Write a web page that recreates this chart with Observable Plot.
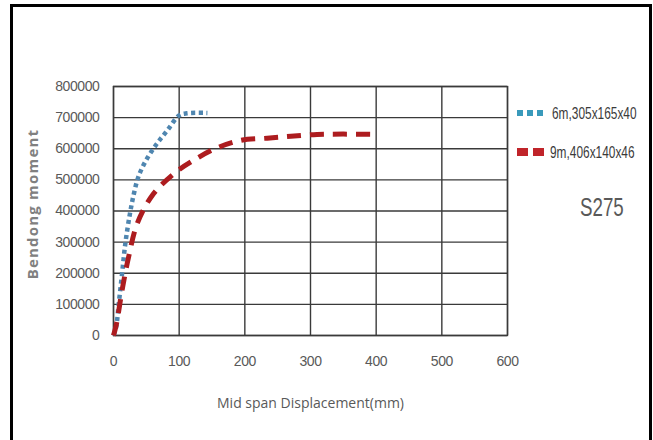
<!DOCTYPE html>
<html><head><meta charset="utf-8">
<script src="https://cdn.jsdelivr.net/npm/d3@7"></script>
<script src="https://cdn.jsdelivr.net/npm/@observablehq/plot@0.6"></script>
<style>
body{margin:0;background:#fff;}
#wrap{position:relative;width:653px;height:440px;overflow:hidden;background:#fff;}
#wrap svg.plot{position:absolute;left:0;top:0;}
#wrap svg.plot g[aria-label="x-axis tick label"] text, #wrap svg.plot g[aria-label="y-axis tick label"] text{letter-spacing:-0.4px;}
#border{position:absolute;left:10px;top:4px;width:642px;height:470px;border:3px solid #000;box-sizing:border-box;pointer-events:none;}
.leg{position:absolute;left:517px;font-family:"Liberation Sans",Arial,sans-serif;font-size:16.5px;color:#3a3a3a;display:flex;align-items:center;white-space:nowrap;}
.leg svg{margin-right:3px;}
.leg span{display:inline-block;transform:scaleX(0.72);transform-origin:left center;}
#s275{position:absolute;left:580px;top:192px;font-family:"Liberation Sans",Arial,sans-serif;font-size:26px;color:#595959;transform:scaleX(0.72);transform-origin:left top;}
</style></head>
<body>
<div id="wrap"></div>
<script>
const xTicks = [0, 100, 200, 300, 400, 500, 600];
const yTicks = [0, 100000, 200000, 300000, 400000, 500000, 600000, 700000, 800000];
const seriesNames = ["6m,305x165x40", "9m,406x140x46"];
const seriesColors = ["#4f86b0", "#ad1c1f"];
// 6m, 305x165x40
const s1x = [0, 4, 8, 13, 18, 25, 31, 38.6, 51, 66, 82, 100, 112, 143];
const s1y = [0, 27000, 102000, 198000, 295000, 391000, 455000, 514000, 568000, 616000, 659000, 707000, 714000, 715000];
// 9m, 406x140x46
const s2x = [0, 4.6, 13, 23, 36, 59, 92, 122, 158, 194, 234, 270, 310, 350, 399];
const s2y = [0, 38000, 145000, 252000, 359000, 450000, 520000, 563000, 603000, 627000, 634000, 640000, 646000, 647000, 646000];
const xLabel = "Mid span Displacement(mm)";
const yLabel = "Bendong moment";
const note = "S275";

const d1 = s1x.map((x, i) => ({x, y: s1y[i]}));
const d2 = s2x.map((x, i) => ({x, y: s2y[i]}));
const tickFont = "'Liberation Sans',Arial,sans-serif";

const chart = Plot.plot({
  width: 653, height: 440,
  marginLeft: 113, marginRight: 146, marginTop: 86, marginBottom: 105,
  style: {fontFamily: tickFont, fontSize: "14px", color: "#595959", background: "transparent"},
  x: {domain: [0, 600], ticks: xTicks, label: null},
  y: {domain: [0, 800000], ticks: yTicks, label: null},
  marks: [
    Plot.gridX(xTicks, {stroke: "#3a3a3a", strokeOpacity: 1, strokeWidth: 1.4}),
    Plot.gridY(yTicks, {stroke: "#3a3a3a", strokeOpacity: 1, strokeWidth: 1.4}),
    Plot.frame({stroke: "#3a3a3a", strokeWidth: 1.4}),
    Plot.axisX(xTicks, {tickSize: 0, tickPadding: 21, fontSize: 14, fill: "#595959", tickFormat: d => String(d)}),
    Plot.axisY(yTicks, {tickSize: 0, tickPadding: 14, fontSize: 14, fill: "#595959", tickFormat: d => String(d)}),
    Plot.line(d1, {x: "x", y: "y", stroke: seriesColors[0], strokeWidth: 4.5, strokeDasharray: "4,3.5", strokeLinecap: "butt", curve: "catmull-rom"}),
    Plot.line(d2, {x: "x", y: "y", stroke: seriesColors[1], strokeWidth: 5, strokeDasharray: "14,9", strokeLinecap: "butt", curve: "catmull-rom"}),
    Plot.text([yLabel], {frameAnchor: "left", textAnchor: "middle", dx: -80, dy: -7, rotate: -90, fontSize: 15, fontWeight: "bold", fill: "#808080", fontFamily: "'Open Sans',sans-serif"}),
    Plot.text([xLabel], {frameAnchor: "bottom", dy: 72, fontSize: 14, fill: "#595959", fontFamily: "'Open Sans',sans-serif"})
  ]
});
chart.classList.add("plot");
const wrap = document.getElementById("wrap");
wrap.appendChild(chart);
chart.querySelectorAll("text").forEach(t => { if (t.textContent === yLabel) t.setAttribute("letter-spacing", "1.2"); });

const border = document.createElement("div");
border.id = "border";
wrap.appendChild(border);

const legTops = [103, 142];
const dashes = ["6,4", "11,5"];
const widths = [6, 8];
seriesNames.forEach((name, i) => {
  const el = document.createElement("div");
  el.className = "leg";
  el.style.top = legTops[i] + "px";
  el.innerHTML = `<svg width="${i === 0 ? 32 : 30}" height="20"><line x1="0" y1="10" x2="${i === 0 ? 26 : 27}" y2="10" stroke="${i === 0 ? "#3a9abb" : "#c0242a"}" stroke-width="${widths[i]}" stroke-dasharray="${dashes[i]}"/></svg><span>${name}</span>`;
  wrap.appendChild(el);
});
const s = document.createElement("div");
s.id = "s275";
s.textContent = note;
wrap.appendChild(s);
</script>
</body></html>
